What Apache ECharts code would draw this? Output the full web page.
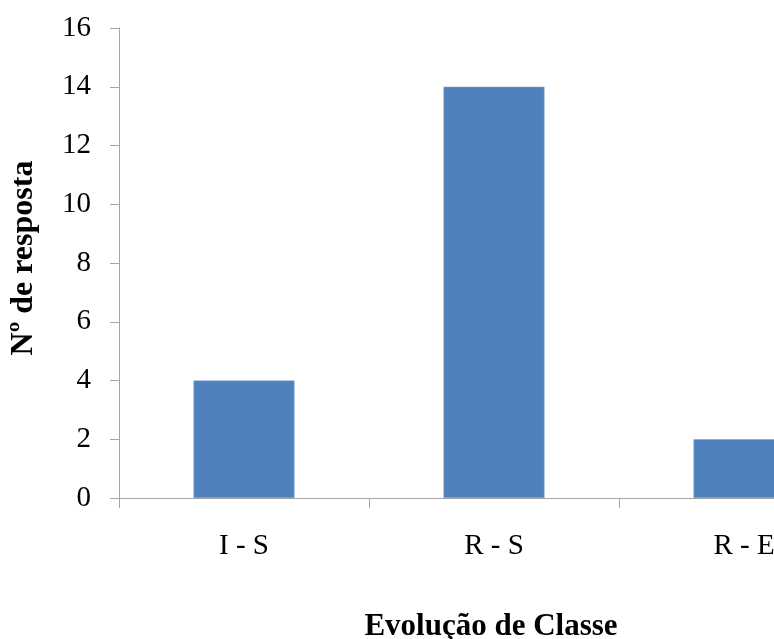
<!DOCTYPE html>
<html>
<head>
<meta charset="utf-8">
<script src="https://cdn.jsdelivr.net/npm/echarts@6/dist/echarts.min.js"></script>
<style>html,body{margin:0;padding:0;background:#fff;overflow:hidden;width:774px;height:639px;}#c{width:900px;height:639px;}</style>
</head>
<body>
<div id="c"></div>
<script>
var categories = ['I - S', 'R - S', 'R - E'];
var values = [4, 14, 2];
var yMin = 0, yMax = 16, yInterval = 2;

var chart = echarts.init(document.getElementById('c'), null, {renderer: 'canvas'});
var axisColor = '#a6a6a6';
var font = '"Liberation Serif", "Times New Roman", serif';
chart.setOption({
  animation: false,
  backgroundColor: '#ffffff',
  grid: {left: 119, top: 28, width: 750, bottom: 141, containLabel: false, outerBoundsMode: 'none'},
  xAxis: {
    type: 'category',
    data: categories,
    name: 'Evolução de Classe',
    nameLocation: 'middle',
    nameGap: 113,
    nameTextStyle: {fontFamily: font, fontSize: 31, fontWeight: 'bold', color: '#000', verticalAlign: 'top', padding: [0, 6, 0, 0]},
    axisLine: {lineStyle: {color: axisColor, width: 1}},
    axisTick: {show: true, length: 10, alignWithLabel: false, lineStyle: {color: axisColor}},
    axisLabel: {fontFamily: font, fontSize: 29, color: '#000', margin: 34},
    splitLine: {show: false}
  },
  yAxis: {
    type: 'value',
    min: yMin, max: yMax, interval: yInterval,
    name: 'Nº de resposta',
    nameLocation: 'middle',
    nameGap: 79,
    nameRotate: 90,
    nameTextStyle: {fontFamily: font, fontSize: 32, fontWeight: 'bold', color: '#000', padding: [0, 0, 0, 10]},
    axisLine: {show: true, lineStyle: {color: axisColor, width: 1}},
    axisTick: {show: true, length: 9, lineStyle: {color: axisColor}},
    axisLabel: {fontFamily: font, fontSize: 29, color: '#000', margin: 28},
    splitLine: {show: false}
  },
  series: [{
    type: 'bar',
    data: values,
    barWidth: 101,
    itemStyle: {color: '#4f81bd', borderColor: '#7fa2cf', borderWidth: 0.6}
  }]
});
</script>
</body>
</html>
